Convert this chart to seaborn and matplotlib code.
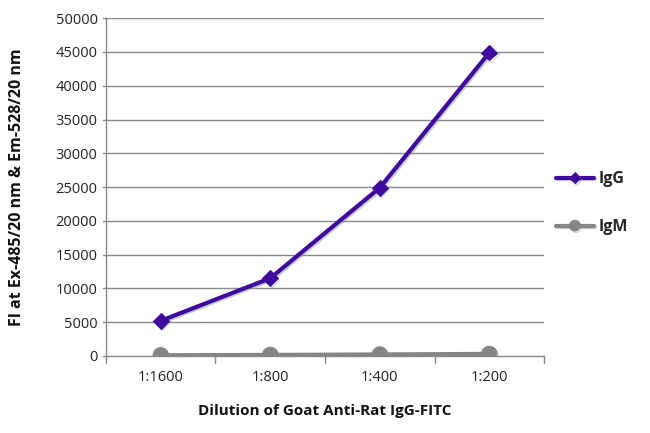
import matplotlib
matplotlib.use("Agg")
import matplotlib.pyplot as plt
import matplotlib.patheffects as pe
import seaborn as sns
import pandas as pd

categories = ["1:1600", "1:800", "1:400", "1:200"]
igg = [5200, 11500, 24900, 44900]
igm = [100, 150, 220, 300]
series_names = ["IgG", "IgM"]
yticks = [0, 5000, 10000, 15000, 20000, 25000, 30000, 35000, 40000, 45000, 50000]

df = pd.DataFrame({
    "x": list(range(len(categories))) * 2,
    "y": igg + igm,
    "series": [series_names[0]] * len(igg) + [series_names[1]] * len(igm),
})

sns.set_theme(style="white")
plt.rcParams['font.family'] = ['Open Sans', 'DejaVu Sans']

fig = plt.figure(figsize=(6.5, 4.33), dpi=100)
ax = fig.add_axes([0.163, 0.178, 0.674, 0.780])

colors = {"IgG": "#3f0a9e", "IgM": "#858585"}
markers = {"IgG": "D", "IgM": "o"}
shadow = [pe.SimpleLineShadow(offset=(1, -1), shadow_color="#999999", alpha=0.5), pe.Normal()]

for name in series_names:
    sub = df[df.series == name]
    sns.lineplot(data=sub, x="x", y="y", ax=ax, color=colors[name], marker=markers[name],
                 markersize=8 if name == "IgG" else 11, markeredgecolor=colors[name],
                 linewidth=3, label=name, path_effects=shadow)

ax.set_xlim(-0.5, 3.5)
ax.set_ylim(0, 50000)
ax.set_yticks(yticks)
ax.set_yticklabels([str(t) for t in yticks], fontsize=10.5, color="#222222")
ax.set_xticks(range(len(categories)))
ax.set_xticklabels(categories, fontsize=10.5, color="#222222")
ax.tick_params(axis="x", length=0, pad=10)
ax.tick_params(axis="y", length=0, pad=6)
for b in [-0.5, 0.5, 1.5, 2.5, 3.5]:
    ax.plot([b, b], [0, -1000], color="#888888", lw=1, clip_on=False)
for t in yticks[1:]:
    ax.axhline(t, color="#888888", lw=1, zorder=0)
for t in yticks:
    ax.plot([-0.5, -0.53], [t, t], color="#888888", lw=1, clip_on=False)

for s in ["top", "right"]:
    ax.spines[s].set_visible(False)
for s in ["left", "bottom"]:
    ax.spines[s].set_color("#888888")
    ax.spines[s].set_linewidth(1)

ax.set_xlabel("Dilution of Goat Anti-Rat IgG-FITC", fontsize=11, fontweight="bold", color="#111111", labelpad=14)
ax.set_ylabel("FI at Ex-485/20 nm & Em-528/20 nm", fontsize=11.5, fontweight="bold", color="#111111", labelpad=22)

leg = ax.legend(loc="center left", bbox_to_anchor=(1.012, 0.452), frameon=False,
                fontsize=11.5, handlelength=2.4, handletextpad=0.3, markerscale=0.7,
                labelspacing=2.0, borderaxespad=0)
for txt in leg.get_texts():
    txt.set_fontweight("bold")

fig.savefig("out.png", dpi=100)
